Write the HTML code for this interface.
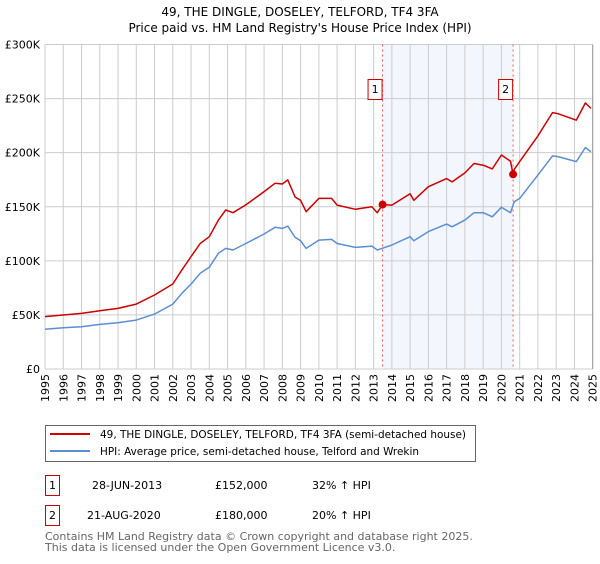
<!DOCTYPE html>
<html><head><meta charset="utf-8"><style>
body{margin:0;background:#fff;width:600px;height:560px;overflow:hidden;font-family:"DejaVu Sans","Liberation Sans",sans-serif;}
svg text{font-family:"DejaVu Sans","Liberation Sans",sans-serif;}
</style></head><body>
<svg id="chart" width="600" height="560" viewBox="0 0 600 560" xmlns="http://www.w3.org/2000/svg">
<text x="300" y="16" text-anchor="middle" font-size="12" fill="#000">49, THE DINGLE, DOSELEY, TELFORD, TF4 3FA</text>
<text x="300" y="32" text-anchor="middle" font-size="12" fill="#000">Price paid vs. HM Land Registry's House Price Index (HPI)</text>
<g id="plot"></g>
<g>
<rect x="45.5" y="425.5" width="430" height="36" fill="#fff" stroke="#666"/>
<line x1="50" y1="434" x2="90" y2="434" stroke="#cc0000" stroke-width="2"/>
<text x="100" y="438" font-size="10.5" textLength="366" lengthAdjust="spacingAndGlyphs">49, THE DINGLE, DOSELEY, TELFORD, TF4 3FA (semi-detached house)</text>
<line x1="50" y1="451" x2="90" y2="451" stroke="#5b8fd4" stroke-width="2"/>
<text x="100" y="455" font-size="10.5" textLength="319" lengthAdjust="spacingAndGlyphs">HPI: Average price, semi-detached house, Telford and Wrekin</text>
</g>
<g font-size="11">
<rect x="45.5" y="475.5" width="14" height="20" fill="#fff" stroke="#cc0000"/>
<text x="52.5" y="489" text-anchor="middle">1</text>
<text x="92" y="489">28-JUN-2013</text>
<text x="215" y="489">£152,000</text>
<text x="312" y="489">32% ↑ HPI</text>
</g>
<g font-size="11">
<rect x="45.5" y="505.5" width="14" height="20" fill="#fff" stroke="#cc0000"/>
<text x="52.5" y="519" text-anchor="middle">2</text>
<text x="87" y="519">21-AUG-2020</text>
<text x="215" y="519">£180,000</text>
<text x="312" y="519">20% ↑ HPI</text>
</g>
<text x="45" y="540" font-size="11" fill="#666">Contains HM Land Registry data © Crown copyright and database right 2025.</text>
<text x="45" y="551" font-size="11" fill="#666">This data is licensed under the Open Government Licence v3.0.</text>
</svg>
<script>
const yTicks=[0,50000,100000,150000,200000,250000,300000];
const yTickLabels=["£0","£50K","£100K","£150K","£200K","£250K","£300K"];
const xYears=[1995,1996,1997,1998,1999,2000,2001,2002,2003,2004,2005,2006,2007,2008,2009,2010,2011,2012,2013,2014,2015,2016,2017,2018,2019,2020,2021,2022,2023,2024,2025];
const sales=[{t:2013.49,v:152000,label:"1"},{t:2020.64,v:180000,label:"2"}];
const redT=[1995,1996,1997,1998,1999,2000,2001,2002,2002.5,2003,2003.5,2004,2004.5,2004.9,2005.3,2006,2007,2007.6,2008,2008.3,2008.7,2009,2009.3,2010,2010.7,2011,2012,2012.9,2013.2,2013.49,2014,2015,2015.2,2016,2017,2017.3,2018,2018.5,2019,2019.5,2020,2020.5,2020.64,2020.7,2021,2022,2022.8,2023.1,2024.1,2024.6,2024.9];
const redV=[48400,49900,51400,53900,56000,60000,68400,78600,91600,104000,116000,122300,137700,147000,144500,151700,164000,171700,171000,174800,159000,156000,145400,157700,157700,151500,147600,150000,144500,152000,151500,162000,156000,168500,176000,173000,181300,190000,188400,185000,197800,192000,180000,184500,191700,215500,237000,236000,230000,246000,240900];
const blueT=[1995,1996,1997,1998,1999,2000,2001,2002,2002.5,2003,2003.5,2004,2004.5,2004.9,2005.3,2006,2007,2007.6,2008,2008.3,2008.7,2009,2009.3,2010,2010.7,2011,2012,2012.9,2013.2,2014,2015,2015.2,2016,2017,2017.3,2018,2018.5,2019,2019.5,2020,2020.5,2020.7,2021,2022,2022.8,2023.1,2024.1,2024.6,2024.9];
const blueV=[36700,38200,39000,41200,42800,45200,50800,60000,70000,78600,88500,94000,107000,111500,110000,116000,124800,131000,130000,132000,121700,118600,111500,119200,119800,116000,112400,113600,110000,114600,122300,118600,127000,134000,131500,137700,144500,144500,140700,149500,144500,154600,157700,179300,197000,196400,191700,204800,200800];
const NS="http://www.w3.org/2000/svg";
const L=45,R=592.7,T=44.5,B=369;
const xs=t=>L+(t-1995)/(2025-1995)*(R-L);
const ys=v=>B-v/300000*(B-T);
const plot=document.getElementById('plot');
function mk(tag,a,parent){const e=document.createElementNS(NS,tag);for(const k in a)e.setAttribute(k,a[k]);(parent||plot).appendChild(e);return e;}
const sh=mk('rect',{x:xs(sales[0].t),y:T,width:xs(sales[1].t)-xs(sales[0].t),height:B-T,fill:'#f0f4fd',opacity:0.8});


xYears.forEach(y=>{const g=mk('line',{x1:xs(y),x2:xs(y),y1:T,y2:B,stroke:'#cccccc','stroke-width':1});


const tx=xs(y)+4;const lab=mk('text',{x:tx,y:374,'font-size':11,transform:`rotate(-90 ${tx} 374)`,'text-anchor':'end'});lab.textContent=y;

});
yTicks.forEach((v,i)=>{const g=mk('line',{x1:L,x2:R,y1:ys(v),y2:ys(v),stroke:'#cccccc','stroke-width':1});


const lab=mk('text',{x:40,y:ys(v)+4,'font-size':11,'text-anchor':'end'});lab.textContent=yTickLabels[i];

});
sales.forEach(s=>{const l=mk('line',{x1:xs(s.t),x2:xs(s.t),y1:T,y2:B,stroke:'#ee5555','stroke-width':1,'stroke-dasharray':'2,3'});


const r=mk('rect',{x:xs(s.t)-14.5,y:79.5,width:14,height:20,fill:'#fff',stroke:'#cc0000'});


const t=mk('text',{x:xs(s.t)-7.5,y:93,'font-size':11,'text-anchor':'middle'});t.textContent=s.label;

});
function path(T_,V,color,name){const d=T_.map((t,i)=>(i?'L':'M')+xs(t).toFixed(1)+','+ys(V[i]).toFixed(1)).join('');
const p=mk('path',{d:d,fill:'none',stroke:color,'stroke-width':1.5,'stroke-linejoin':'round'});

}
path(blueT,blueV,'#5b8fd4','hpi-line');
path(redT,redV,'#cc0000','property-price-line');
sales.forEach(s=>{const c=mk('circle',{cx:xs(s.t),cy:ys(s.v),r:4,fill:'#cc0000'});

});
const ax=mk('line',{x1:R,x2:R,y1:T,y2:B,stroke:'#999','stroke-width':1});


</script>
</body></html>
